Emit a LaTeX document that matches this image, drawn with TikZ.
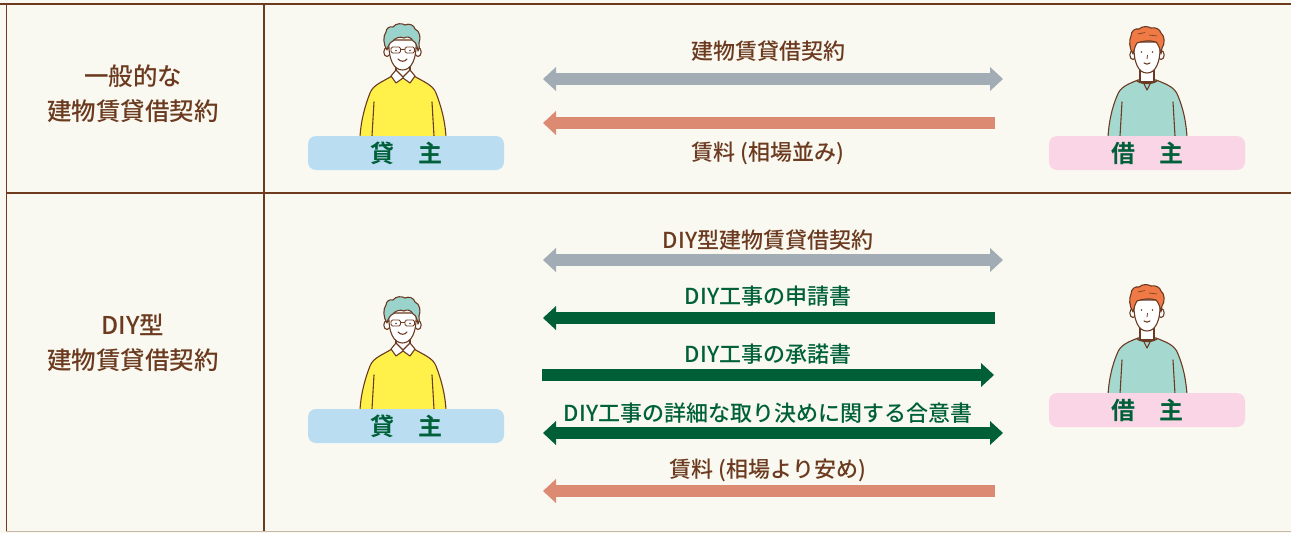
\documentclass[tikz,border=0pt]{standalone}
\usepackage{fontspec}
\newfontfamily\jp{Noto Sans CJK JP Medium}
\newfontfamily\jpb{Noto Sans CJK JP Bold}
\usetikzlibrary{arrows.meta}

\definecolor{paper}{HTML}{F9F9F1}
\definecolor{rule}{HTML}{6E3B1E}
\definecolor{ruleedge}{HTML}{C9B8A6}
\definecolor{txtbrown}{HTML}{6B3A1F}
\definecolor{txtgreen}{HTML}{00603A}
\definecolor{arrgray}{HTML}{A2ACB4}
\definecolor{arrsalmon}{HTML}{DD8A72}
\definecolor{arrgreen}{HTML}{005F37}
\definecolor{boxblue}{HTML}{BBDDF2}
\definecolor{boxpink}{HTML}{F9D5E6}
\definecolor{outline}{HTML}{6B3A22}
\definecolor{sweateryellow}{HTML}{FFF04A}
\definecolor{hairteal}{HTML}{9AD3CB}
\definecolor{hairorange}{HTML}{F07A45}
\definecolor{sweatermint}{HTML}{A5D9D0}

\tikzset{
  rowlabel/.style={font=\jp\fontsize{24.5}{35}\selectfont, text=txtbrown, align=center},
  arrlabel/.style={font=\jp\fontsize{22}{26}\selectfont, inner sep=0pt},
  namebox/.style={rounded corners=8pt, minimum width=196pt, minimum height=34pt, inner sep=0pt,
    text=txtgreen, font=\jpb\fontsize{24}{26}\selectfont},
  band/.style={line width=12pt},
  headR/.style={-{Triangle[width=24pt,length=13pt,line width=0pt]}},
  headL/.style={{Triangle[width=24pt,length=13pt,line width=0pt]}-},
  headLR/.style={{Triangle[width=24pt,length=13pt,line width=0pt]}-{Triangle[width=24pt,length=13pt,line width=0pt]}},
  ink/.style={draw=outline, line width=1.1pt, line join=round, line cap=round},
  landlord/.pic={
    % sweater
    \path[ink, fill=sweateryellow] (392,76) .. controls (382,82) and (373,85) .. (370,93)
      .. controls (365,106) and (361,120) .. (360,137) -- (446,137)
      .. controls (445,120) and (441,106) .. (436,93)
      .. controls (433,85) and (424,82) .. (414,76) -- cycle;
    \draw[ink] (374,102) -- (372,136);
    \draw[ink] (432,102) -- (434,136);
    % neck
    \path[ink, fill=white] (396,62) -- (396,78) -- (410,78) -- (410,62);
    % shirt collar
    \path[ink, fill=white] (391,76) -- (396,70) -- (403,77) -- (410,70) -- (415,76)
      -- (410,83) -- (403,78) -- (396,83) -- cycle;
    % ears
    \path[ink, fill=white] (387,52) ellipse [x radius=3.2, y radius=4.5];
    \path[ink, fill=white] (418,52) ellipse [x radius=3.2, y radius=4.5];
    % face
    \path[ink, fill=white] (389,40) .. controls (388,60) and (394,70) .. (402.5,70)
      .. controls (411,70) and (417,60) .. (416,40) -- cycle;
    % hair, tufted on top and short at the temples
    \path[ink, fill=hairteal] (387,50) .. controls (383,44) and (383,36) .. (386,32)
      .. controls (386,28) and (390,26) .. (393,27)
      .. controls (396,23) and (402,23) .. (405,25)
      .. controls (409,23) and (414,25) .. (415,29)
      .. controls (420,31) and (421,38) .. (419,43)
      .. controls (420,46) and (419,49) .. (418,51)
      .. controls (417,46) and (416,42) .. (413,41)
      .. controls (411,37) and (407,36) .. (404,38)
      .. controls (400,36) and (395,38) .. (393,41)
      .. controls (390,42) and (388,46) .. (387,50) -- cycle;
    % glasses
    \draw[draw=outline, line width=0.9pt, rounded corners=1.5pt] (391,47) rectangle (400.5,53);
    \draw[draw=outline, line width=0.9pt, rounded corners=1.5pt] (405,47) rectangle (414.5,53);
    \draw[draw=outline, line width=0.9pt] (400.5,49) -- (405,49);
    \fill[outline] (396,50.5) circle (0.9);
    \fill[outline] (410,50.5) circle (0.9);
    % smile
    \draw[ink] (398,59) .. controls (400.5,62) and (405,62) .. (407,59);
  },
  tenant/.pic={
    % sweater
    \path[ink, fill=sweatermint] (1138,80) .. controls (1128,84) and (1120,87) .. (1117,96)
      .. controls (1112,108) and (1109,121) .. (1108,137) -- (1187,137)
      .. controls (1186,121) and (1183,108) .. (1178,96)
      .. controls (1175,87) and (1166,84) .. (1156,80) -- cycle;
    \draw[ink] (1122,102) -- (1120,136);
    \draw[ink] (1173,102) -- (1175,136);
    % neck
    \path[ink, fill=white] (1140,66) -- (1140,82) -- (1154,82) -- (1154,66);
    % neckline
    \draw[ink] (1137,81) .. controls (1142,84.5) and (1152,84.5) .. (1157,81);
    \draw[ink] (1144,84) -- (1147,90) -- (1150,84);
    % ears
    \path[ink, fill=white] (1133,55) ellipse [x radius=3.2, y radius=4.5];
    \path[ink, fill=white] (1161,55) ellipse [x radius=3.2, y radius=4.5];
    % face
    \path[ink, fill=white] (1134,42) .. controls (1133,64) and (1139,73) .. (1147,73)
      .. controls (1155,73) and (1161,64) .. (1160,42) -- cycle;
    % hair, wavy on top
    \path[ink, fill=hairorange] (1133,54) .. controls (1129,48) and (1129,40) .. (1131,36)
      .. controls (1131,31) and (1135,28) .. (1139,29)
      .. controls (1142,26) and (1148,26) .. (1151,28)
      .. controls (1155,27) and (1160,29) .. (1161,33)
      .. controls (1165,36) and (1165,44) .. (1162,48)
      .. controls (1162,50) and (1161,52) .. (1161,54)
      .. controls (1160,48) and (1158,44) .. (1156,42)
      .. controls (1150,40) and (1142,41) .. (1137,43)
      .. controls (1135,46) and (1134,50) .. (1133,54) -- cycle;
    \draw[draw=outline, line width=0.6pt] (1138,34) -- (1145,32.5) (1149,35) -- (1157,36);
    % eyes, nose, mouth
    \fill[outline] (1141.5,52) circle (0.9);
    \fill[outline] (1152.5,52) circle (0.9);
    \draw[draw=outline, line width=0.8pt] (1147.5,55) -- (1147,59);
    \draw[ink] (1144,63) .. controls (1146,64.5) and (1148,64.5) .. (1150,63);
  }
}

\begin{document}
\begin{tikzpicture}[x=1pt, y=-1pt]
  \useasboundingbox (0,0) rectangle (1291,533);
  \fill[paper] (0,0) rectangle (1291,533);

  % table rules
  \draw[ruleedge, line width=1pt] (6,531.5) -- (1291,531.5);
  \draw[rule, line width=1.6pt] (0,4) -- (1291,4);
  \draw[rule, line width=1.6pt] (6.5,4) -- (6.5,531);
  \draw[rule, line width=1.6pt] (264,4) -- (264,531);
  \draw[rule, line width=1.6pt] (6.5,193) -- (1291,193);

  % row headings
  \node[rowlabel] (head1) at (133,94) {一般的な\\建物賃貸借契約};
  \node[rowlabel] (head2) at (133,343) {DIY型\\建物賃貸借契約};

  % figures
  \pic at (0,0) {landlord};
  \pic at (0,0) {tenant};
  \pic at (0,273) {landlord};
  \pic at (0,258) {tenant};

  % name plates
  \node[namebox, fill=boxblue] (lord1) at (406,153) {貸　主};
  \node[namebox, fill=boxpink] (ten1) at (1147,153) {借　主};
  \node[namebox, fill=boxblue] (lord2) at (406,426) {貸　主};
  \node[namebox, fill=boxpink] (ten2) at (1147,410) {借　主};

  % arrow end points
  \coordinate (a1L) at (543,79);  \coordinate (a1R) at (1003,79);
  \coordinate (a2L) at (543,123); \coordinate (a2R) at (995,123);
  \coordinate (b1L) at (543,260); \coordinate (b1R) at (1003,260);
  \coordinate (b2L) at (543,318); \coordinate (b2R) at (995,318);
  \coordinate (b3L) at (542,375); \coordinate (b3R) at (994,375);
  \coordinate (b4L) at (543,433); \coordinate (b4R) at (1003,433);
  \coordinate (b5L) at (543,491); \coordinate (b5R) at (995,491);

  % general contract
  \draw[band, arrgray, headLR] (a1L) -- (a1R);
  \draw[band, arrsalmon, headL] (a2L) -- (a2R);
  \node[arrlabel, text=txtbrown] (l1) at (768,51) {建物賃貸借契約};
  \node[arrlabel, text=txtbrown] (l2) at (768,153) {賃料 (相場並み)};

  % DIY contract
  \draw[band, arrgray, headLR] (b1L) -- (b1R);
  \draw[band, arrgreen, headL] (b2L) -- (b2R);
  \draw[band, arrgreen, headR] (b3L) -- (b3R);
  \draw[band, arrgreen, headLR] (b4L) -- (b4R);
  \draw[band, arrsalmon, headL] (b5L) -- (b5R);
  \node[arrlabel, text=txtbrown] (m1) at (768,240) {DIY型建物賃貸借契約};
  \node[arrlabel, text=txtgreen] (m2) at (768,296) {DIY工事の申請書};
  \node[arrlabel, text=txtgreen] (m3) at (768,354) {DIY工事の承諾書};
  \node[arrlabel, text=txtgreen] (m4) at (768,413) {DIY工事の詳細な取り決めに関する合意書};
  \node[arrlabel, text=txtbrown] (m5) at (768,470) {賃料 (相場より安め)};
\end{tikzpicture}
\end{document}
